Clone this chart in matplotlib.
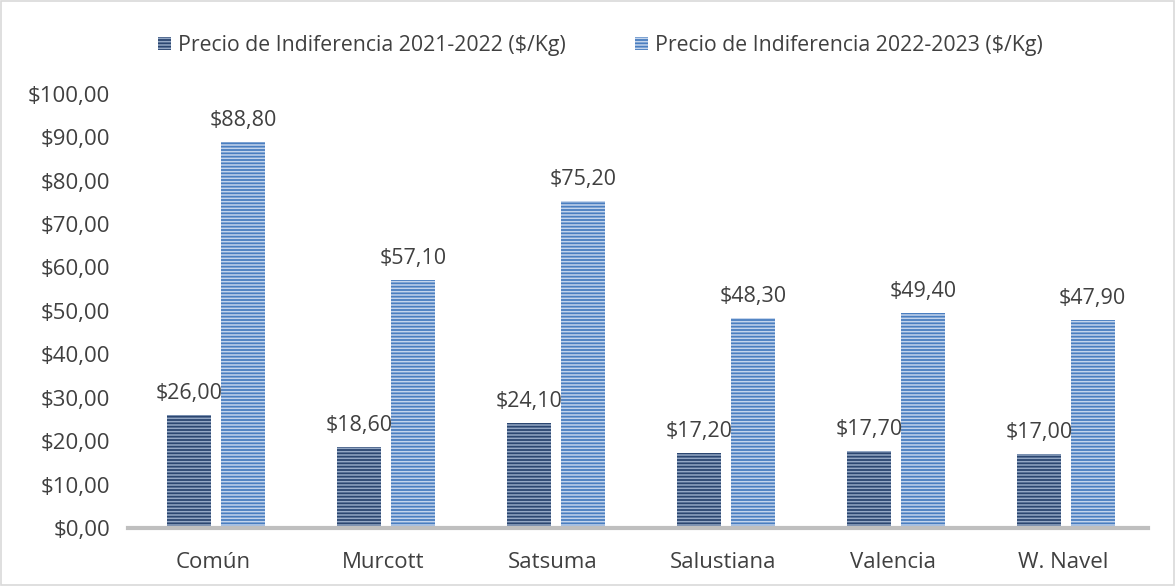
import numpy as np
import matplotlib.pyplot as plt
from matplotlib.patches import Rectangle

plt.rcParams['font.family'] = ['Open Sans', 'DejaVu Sans']
plt.rcParams['hatch.linewidth'] = 1.1

categorias = ['Común', 'Murcott', 'Satsuma', 'Salustiana', 'Valencia', 'W. Navel']
precio_2122 = [26.00, 18.60, 24.10, 17.20, 17.70, 17.00]
precio_2223 = [88.80, 57.10, 75.20, 48.30, 49.40, 47.90]
serie_1 = 'Precio de Indiferencia 2021-2022 ($/Kg)'
serie_2 = 'Precio de Indiferencia 2022-2023 ($/Kg)'

txt = '#404040'
fig = plt.figure(figsize=(11.75, 5.86), dpi=100)
ax = fig.add_axes([0.109, 0.099, 0.868, 0.741])

x = np.arange(len(categorias))
w = 0.26
b1 = ax.bar(x - 0.142, precio_2122, w, color='#2B4670', hatch='-----',
            edgecolor='#93A7C4', linewidth=0, label=serie_1)
b2 = ax.bar(x + 0.175, precio_2223, w, color='#4A7EC0', hatch='-----',
            edgecolor='#C3D4EC', linewidth=0, label=serie_2)

def fmt(v):
    return '$' + f'{v:.2f}'.replace('.', ',')

for bars, vals in [(b1, precio_2122), (b2, precio_2223)]:
    for b, v in zip(bars, vals):
        ax.text(b.get_x() + b.get_width() / 2, v + 2.6, fmt(v), ha='center',
                va='bottom', fontsize=15.5, color=txt)

ax.set_xlim(-0.5, len(categorias) - 0.5)
ax.set_ylim(0, 100)
ax.set_yticks(np.arange(0, 101, 10))
ax.set_yticklabels([fmt(v) for v in np.arange(0, 101, 10)])
ax.set_xticks(x)
ax.set_xticklabels(categorias)
ax.tick_params(axis='both', length=0, labelsize=16, colors=txt)
ax.tick_params(axis='x', pad=17)
ax.tick_params(axis='y', pad=13)
for s in ['top', 'right', 'left']:
    ax.spines[s].set_visible(False)
ax.spines['bottom'].set_color('#BFBFBF')
ax.spines['bottom'].set_linewidth(3)

leg = fig.legend(handles=[b1, b2], loc='center', bbox_to_anchor=(0.511, 0.922),
                 ncol=2, frameon=False, fontsize=15.3, labelcolor=txt,
                 handlelength=0.6, handleheight=0.6, handletextpad=0.3,
                 columnspacing=3.3)

fig.patches.append(Rectangle((0.001, 0.001), 0.998, 0.998, transform=fig.transFigure,
                             fill=False, edgecolor='#D9D9D9', linewidth=1.2))

fig.savefig('out.png', dpi=100)
